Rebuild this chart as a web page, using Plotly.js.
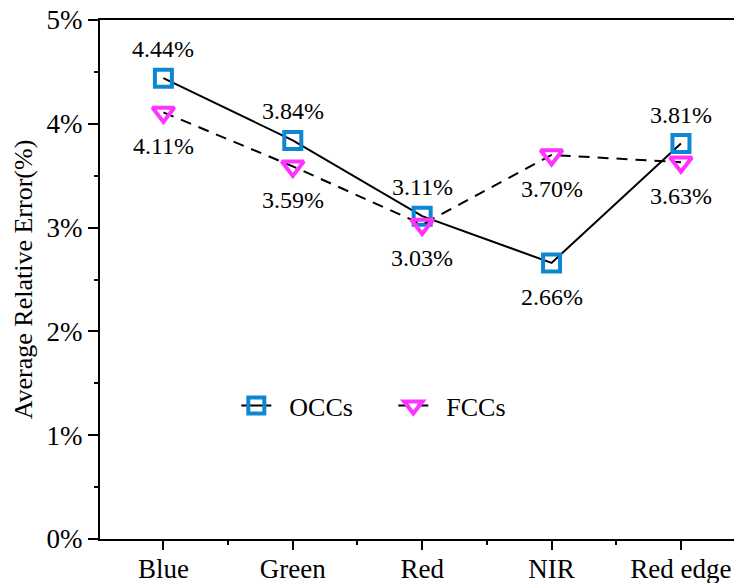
<!DOCTYPE html>
<html><head><meta charset="utf-8">
<script src="https://cdn.plot.ly/plotly-3.0.1.min.js"></script>
<style>body{margin:0;padding:0;background:#fff}#chart{width:734px;height:583px}</style>
</head><body><div id="chart"></div>
<script>
var categories = ["Blue", "Green", "Red", "NIR", "Red edge"];
var occs = [4.44, 3.84, 3.11, 2.66, 3.81];
var fccs = [4.11, 3.59, 3.03, 3.70, 3.63];
var occsLabelSide = [1, 1, 1, -1, 1];   // 1 above, -1 below
var fccsLabelSide = [-1, -1, -1, -1, -1];

var FAM = "Liberation Serif";
var tickFont = {family: FAM, size: 27, color: "#000"};
var labelFont = {family: FAM, size: 24, color: "#000"};
var legendFont = {family: FAM, size: 26, color: "#000"};
var titleFont = {family: FAM, size: 26, color: "#000"};
var NB = "\u00a0\u00a0";

var traces = [
  {x: categories, y: occs, name: NB + "OCCs", type: "scatter", mode: "lines+markers",
   line: {color: "#000", width: 2},
   marker: {symbol: "square-open", size: 17, color: "#0f86d2", line: {width: 4, color: "#0f86d2"}}},
  {x: categories, y: fccs, name: NB + "FCCs", type: "scatter", mode: "lines+markers",
   line: {color: "#000", width: 2, dash: "11px,8px"},
   marker: {symbol: "triangle-down-open", size: 19, color: "#ff33ff", line: {width: 4, color: "#ff33ff"}}}
];

var annotations = [];
function addLabels(vals, sides) {
  vals.forEach(function (v, i) {
    annotations.push({x: categories[i], y: v, xref: "x", yref: "y", text: v.toFixed(2) + "%",
      showarrow: false, yanchor: "middle", xanchor: "center",
      yshift: sides[i] > 0 ? 29 : -34, font: labelFont});
  });
}
addLabels(occs, occsLabelSide);
addLabels(fccs, fccsLabelSide);

var layout = {
  width: 734, height: 583,
  margin: {l: 100, r: 0, t: 20, b: 44},
  paper_bgcolor: "#fff", plot_bgcolor: "#fff",
  font: tickFont,
  showlegend: true,
  legend: {orientation: "h", x: 0.215, y: 0.257, xanchor: "left", yanchor: "middle",
           font: legendFont, bgcolor: "rgba(0,0,0,0)", entrywidth: 112, entrywidthmode: "pixels"},
  xaxis: {type: "category", range: [-0.49, 4.41], showgrid: false, zeroline: false,
          showline: true, linecolor: "#000", linewidth: 2, mirror: true,
          ticks: "outside", ticklen: 9, tickwidth: 2, tickcolor: "#000", ticklabelstandoff: -4,
          minor: {ticks: "outside", ticklen: 4, tickwidth: 2, tickcolor: "#000", tick0: 0.5, dtick: 1},
          tickfont: tickFont},
  yaxis: {range: [0, 5], dtick: 1, tick0: 0, ticksuffix: "%", showgrid: false, zeroline: false,
          showline: true, linecolor: "#000", linewidth: 2,
          ticks: "outside", ticklen: 10, tickwidth: 2, tickcolor: "#000",
          minor: {ticks: "outside", ticklen: 4, tickwidth: 2, tickcolor: "#000", dtick: 0.5},
          tickfont: tickFont,
          title: {text: "Average Relative Error(%)", font: titleFont, standoff: 6}},
  annotations: annotations
};

Plotly.newPlot("chart", traces, layout, {displayModeBar: false, staticPlot: true});
</script>
</body></html>
